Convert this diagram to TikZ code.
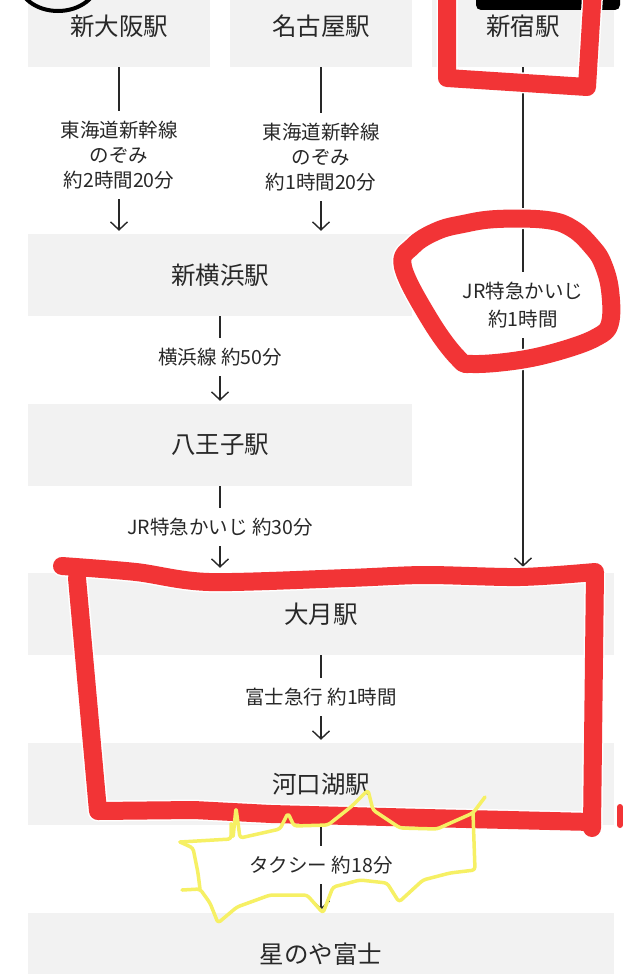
\documentclass[tikz,border=0pt]{standalone}
\usepackage{fontspec}
\newfontfamily\jp{Noto Sans CJK JP}
\usetikzlibrary{arrows.meta}
\definecolor{boxgray}{RGB}{242,242,242}
\definecolor{ink}{RGB}{40,40,40}
\definecolor{mkred}{RGB}{242,52,54}
\definecolor{mkyel}{RGB}{246,240,100}
\begin{document}
\begin{tikzpicture}[x=1pt,y=-1pt,
  station/.style={fill=boxgray, minimum height=82pt, inner sep=0pt, font=\jp\fontsize{24.5}{28}\selectfont, text=ink},
  small/.style={minimum width=182pt},
  wide/.style={minimum width=384pt},
  full/.style={minimum width=586pt},
  lab/.style={font=\jp\fontsize{19.5}{25}\selectfont, text=ink, align=center, inner xsep=2pt, inner ysep=10pt},
  conn/.style={line width=1.4pt, draw=ink},
  arr/.style={conn, -{Straight Barb[length=8pt,width=17pt,line width=1.4pt]}, shorten >=3pt},
  redmark/.style={draw=mkred, line width=18pt, line cap=round, line join=round},
  halo/.style={draw=white, line width=21pt, line cap=round, line join=round},
  yel/.style={draw=mkyel, line width=3.5pt, line cap=round, line join=round, rounded corners=3pt},
]
\useasboundingbox (0,0) rectangle (640,974);
\clip (0,0) rectangle (640,974);
\fill[white] (0,0) rectangle (640,974);

% station boxes
\node[station,small] (osaka) at (119,26) {新大阪駅};
\node[station,small] (nagoya) at (321,26) {名古屋駅};
\node[station,small] (shinjuku) at (523,26) {新宿駅};
\node[station,wide] (shinyoko) at (220,275) {新横浜駅};
\node[station,wide] (hachi) at (220,445) {八王子駅};
\node[station,full] (otsuki) at (321,614) {大月駅};
\node[station,full] (kawa) at (321,784) {河口湖駅};
\node[station,full] (hoshi) at (321,954) {星のや富士};

% labels
\node[lab] (lab1) at (119,155) {東海道新幹線\\のぞみ\\約2時間20分};
\node[lab] (lab2) at (321,157) {東海道新幹線\\のぞみ\\約1時間20分};
\node[lab,font=\jp\fontsize{19.5}{28}\selectfont] (lab3) at (523,305) {JR特急かいじ\\約1時間};
\node[lab] (lab4) at (220,357) {横浜線 約50分};
\node[lab] (lab5) at (220,527) {JR特急かいじ 約30分};
\node[lab] (lab6) at (321,697) {富士急行 約1時間};
\node[lab] (lab7) at (321,865) {タクシー 約18分};

% connectors
\draw[conn] (osaka.south) -- (lab1.north);
\draw[arr] (lab1.south) -- (lab1.south |- shinyoko.north);
\draw[conn] (nagoya.south) -- (lab2.north);
\draw[arr] (lab2.south) -- (lab2.south |- shinyoko.north);
\draw[conn] (shinjuku.south) -- (lab3.north);
\draw[arr, shorten >=6pt] (lab3.south) -- (lab3.south |- otsuki.north);
\draw[conn] (shinyoko.south) -- (lab4.north);
\draw[arr] (lab4.south) -- (hachi.north);
\draw[conn] (hachi.south) -- (lab5.north);
\draw[arr, shorten >=5pt] (lab5.south) -- (lab5.south |- otsuki.north);
\draw[conn] (otsuki.south) -- (lab6.north);
\draw[arr] (lab6.south) -- (kawa.north);
\draw[conn] (kawa.south) -- (lab7.north);
\draw[arr] (lab7.south) -- (hoshi.north);

% black markings
\draw[line width=4pt] (58,-20) ellipse [x radius=40pt, y radius=31pt];
\fill[rounded corners=5pt] (476,-10) rectangle (620,10);

% red markings: halos
\draw[halo] (447,-12) -- (447,78) -- (587,87) -- (593,-12);
\draw[halo] plot[smooth cycle, tension=0.65] coordinates {(413,246) (437,231) (463,224) (497,219) (547,220) (573,229) (593,248) (603,264) (610,290) (610,323) (597,337) (563,350) (520,360) (473,364) (458,358) (430,320) (403,267)};
\draw[halo] plot[smooth, tension=0.5] coordinates {(62,566) (136,572) (209,582) (348,578) (425,575) (520,577) (595,572)} -- (592,828);
\draw[halo] (77,578) -- (98,811) -- (194,810) -- (271,814) -- (425,818) -- (592,822);
% red markings
\draw[redmark] (447,-12) -- (447,78) -- (587,87) -- (593,-12);
\draw[redmark] plot[smooth cycle, tension=0.65] coordinates {(413,246) (437,231) (463,224) (497,219) (547,220) (573,229) (593,248) (603,264) (610,290) (610,323) (597,337) (563,350) (520,360) (473,364) (458,358) (430,320) (403,267)};
\draw[redmark] plot[smooth, tension=0.5] coordinates {(62,566) (136,572) (209,582) (348,578) (425,575) (520,577) (595,572)} -- (592,828);
\draw[redmark] (77,578) -- (98,811) -- (194,810) -- (271,814) -- (425,818) -- (592,822);
\draw[draw=mkred, line width=6pt, line cap=round] (620,807) -- (620,825);

% yellow scribble
\draw[yel] (180,842) -- (231,839) -- (231,822) -- (233,838) -- (236,808) -- (240,838) -- (280,829) -- (288,813) -- (294,826) -- (328,825) -- (352,806) -- (368,790) -- (373,810) -- (400,828) -- (437,829) -- (473,813) -- (485,797);
\draw[yel] (473,813) -- (475,870) -- (450,873) -- (423,880) -- (399,902) -- (387,883) -- (360,880) -- (333,887) -- (323,913) -- (307,895) -- (270,895) -- (237,907) -- (218,923) -- (210,903) -- (200,889) -- (182,890);
\draw[yel] (180,842) -- (193,848) -- (198,873) -- (200,889);
\end{tikzpicture}
\end{document}
